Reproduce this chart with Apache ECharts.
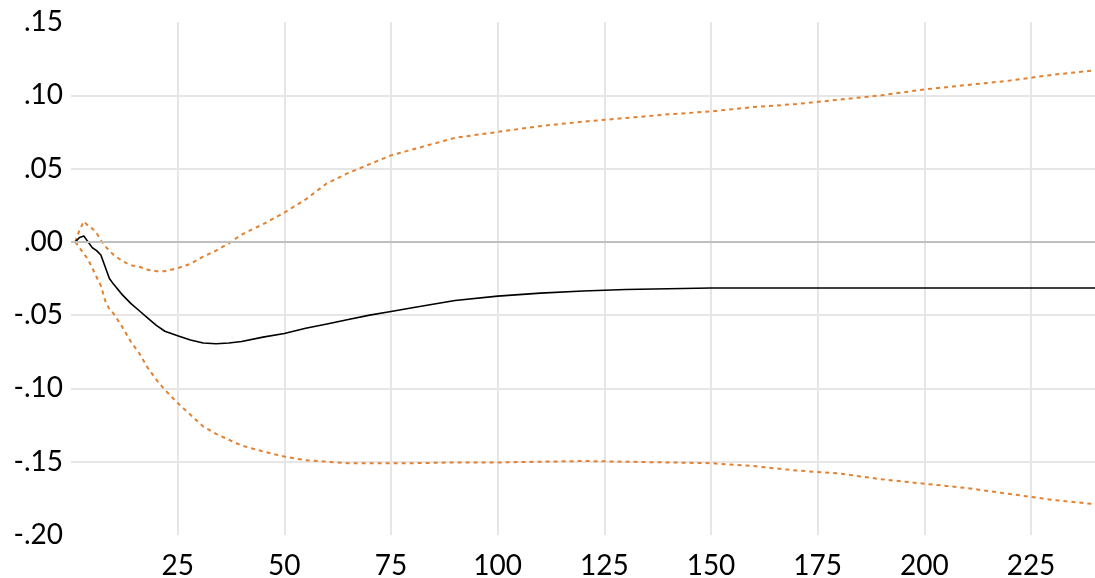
<!DOCTYPE html>
<html>
<head>
<meta charset="utf-8">
<script src="https://cdn.jsdelivr.net/npm/echarts@6/dist/echarts.min.js"></script>
<style>
  html, body { margin: 0; padding: 0; background: #fff; }
  #chart { width: 1095px; height: 578px; }
</style>
</head>
<body>
<div id="chart"></div>
<script>
var periods = [1, 2, 3, 4, 5, 6, 7, 8, 9, 10, 12, 14, 16, 18, 20, 22, 25, 28, 31, 34, 37, 40,
  45, 50, 55, 60, 65, 70, 75, 80, 90, 100, 110, 120, 130, 140, 150, 160, 170, 180, 190,
  200, 210, 220, 230, 240];

var response = [0.000, 0.003, 0.004, 0.000, -0.004, -0.006, -0.009, -0.017, -0.025, -0.029,
  -0.036, -0.042, -0.047, -0.052, -0.057, -0.061, -0.064, -0.067, -0.069, -0.0695, -0.069, -0.068,
  -0.065, -0.0625, -0.059, -0.056, -0.053, -0.050, -0.0475, -0.045, -0.040, -0.037, -0.035, -0.0335,
  -0.0325, -0.032, -0.0315, -0.0315, -0.0315, -0.0315, -0.0315, -0.0315, -0.0315, -0.0315, -0.0315, -0.0315];

var upper = [0.000, 0.008, 0.014, 0.011, 0.009, 0.006, 0.001, -0.003, -0.006, -0.009,
  -0.013, -0.016, -0.017, -0.019, -0.020, -0.020, -0.018, -0.015, -0.010, -0.006, -0.001, 0.005,
  0.012, 0.020, 0.029, 0.040, 0.047, 0.053, 0.059, 0.063, 0.071, 0.075, 0.079, 0.082,
  0.0845, 0.087, 0.089, 0.092, 0.094, 0.097, 0.100, 0.104, 0.107, 0.110, 0.114, 0.117];

var lower = [0.000, -0.004, -0.008, -0.012, -0.018, -0.024, -0.030, -0.040, -0.046, -0.049,
  -0.058, -0.068, -0.076, -0.086, -0.094, -0.101, -0.110, -0.118, -0.126, -0.131, -0.135, -0.139,
  -0.143, -0.1465, -0.149, -0.150, -0.151, -0.151, -0.151, -0.151, -0.1505, -0.1505, -0.150, -0.1495,
  -0.150, -0.1505, -0.151, -0.153, -0.156, -0.158, -0.162, -0.165, -0.168, -0.172, -0.176, -0.179];

function pairs(vals) {
  return periods.map(function (p, i) { return [p, vals[i]]; });
}

var chart = echarts.init(document.getElementById('chart'));
var grid = '#e6e6e6';
var none = 'rgba(0,0,0,0)';
var band = '#e2812f';

chart.setOption({
  animation: false,
  backgroundColor: '#fff',
  grid: { left: 71, right: 0, top: 22, bottom: 43, outerBoundsMode: 'none' },
  xAxis: {
    type: 'value',
    min: 0,
    max: 240,
    interval: 25,
    axisLine: { show: false },
    axisTick: { show: false },
    splitLine: {
      show: true,
      lineStyle: { width: 2, color: [none, grid, grid, grid, grid, grid, grid, grid, grid, grid, none] }
    },
    axisLabel: {
      margin: 17,
      color: '#000',
      fontFamily: 'Lato',
      fontSize: 28,
      formatter: function (v) { return (v === 0 || v === 240) ? '' : String(v); }
    }
  },
  yAxis: {
    type: 'value',
    min: -0.2,
    max: 0.15,
    interval: 0.05,
    axisLine: { show: false },
    axisTick: { show: false },
    splitLine: {
      show: true,
      lineStyle: { width: 2, color: [none, grid, grid, grid, none, grid, grid, none] }
    },
    axisLabel: {
      margin: 8,
      color: '#000',
      fontFamily: 'Lato',
      fontSize: 28,
      formatter: function (v) {
        var s = Math.abs(v).toFixed(2).replace('0.', '.');
        return (v < -1e-9 ? '-' : '') + s;
      }
    }
  },
  series: [
    {
      name: 'upper',
      type: 'line',
      data: pairs(upper),
      showSymbol: false,
      lineStyle: { color: band, width: 2, type: [4, 4] },
      markLine: {
        silent: true,
        symbol: 'none',
        label: { show: false },
        lineStyle: { color: '#bfbfbf', width: 2, type: 'solid' },
        data: [{ yAxis: 0 }]
      },
      z: 3
    },
    {
      name: 'lower',
      type: 'line',
      data: pairs(lower),
      showSymbol: false,
      lineStyle: { color: band, width: 2, type: [4, 4] },
      z: 3
    },
    {
      name: 'response',
      type: 'line',
      data: pairs(response),
      showSymbol: false,
      lineStyle: { color: '#000', width: 1.6 },
      z: 4
    }
  ]
});
</script>
</body>
</html>
